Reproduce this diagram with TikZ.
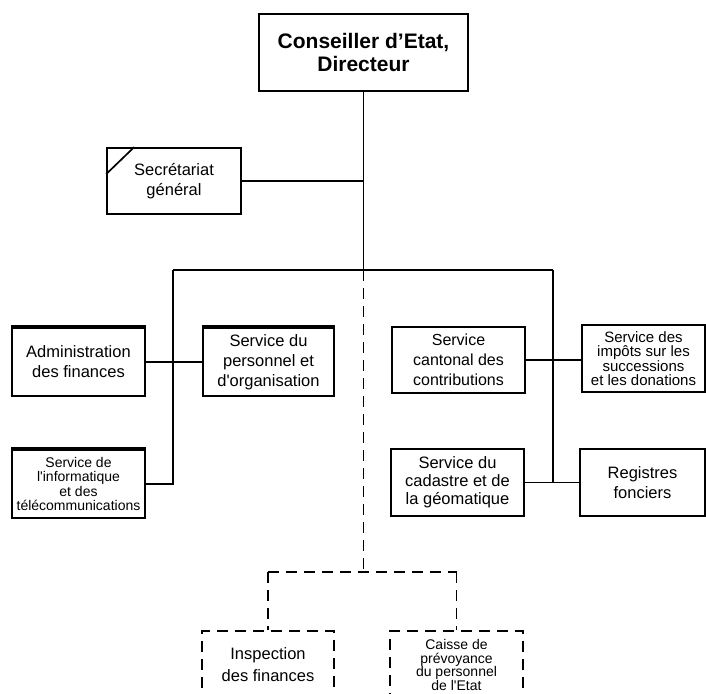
\documentclass[tikz,border=0pt]{standalone}
\usepackage{fontspec}
\setmainfont{Liberation Sans}
\begin{document}
\begin{tikzpicture}[x=1pt,y=-1pt,
  box/.style={draw, line width=1.7pt, rectangle, inner sep=0pt, align=center},
  topbox/.style={box, line width=2.4pt, minimum width=209pt, minimum height=77pt,
    font=\fontsize{21}{23}\selectfont\bfseries},
  f16/.style={font=\fontsize{16.5}{20}\selectfont},
  f14/.style={font=\fontsize{14}{14.5}\selectfont},
  f15/.style={font=\fontsize{15}{14.5}\selectfont},
  dbox/.style={box, dash pattern=on 11pt off 7pt, line width=1.7pt},
  link/.style={line width=1.7pt},
  dlink/.style={line width=1.7pt, dash pattern=on 11pt off 7pt},
  heavytop/.style={line width=3.5pt}
]
\useasboundingbox (0,0) rectangle (706,693);
\clip (0,0) rectangle (706,693);

% nodes
\node[topbox] (top) at (363.5,52.5) {Conseiller d’Etat,\\Directeur};
\node[box,f16,minimum width=134pt,minimum height=66pt] (sec) at (174,181) {Secrétariat\\général};
\node[box,f16,minimum width=133pt,minimum height=68pt] (adm) at (78.5,362) {Administration\\des finances};
\node[box,f16,minimum width=131pt,minimum height=68pt] (pers) at (268.5,362) {Service du\\personnel et\\d\textquotesingle organisation};
\node[box,f14,minimum width=133pt,minimum height=68pt] (info) at (78.5,484) {Service de\\l\textquotesingle informatique\\et des\\télécommunications};
\node[box,font=\fontsize{16}{20}\selectfont,minimum width=133pt,minimum height=66pt] (cant) at (458.5,360) {Service\\cantonal des\\contributions};
\node[box,f15,minimum width=123pt,minimum height=67pt] (imp) at (643.5,358.5) {Service des\\impôts sur les\\successions\\et les donations};
\node[box,font=\fontsize{16.5}{18}\selectfont,minimum width=133pt,minimum height=67pt] (cad) at (457.5,482.5) {Service du\\cadastre et de\\la géomatique};
\node[box,f16,minimum width=125pt,minimum height=67pt] (reg) at (642.5,482.5) {Registres\\fonciers};
\node[dbox,font=\fontsize{16.5}{22}\selectfont,minimum width=132pt,minimum height=68pt] (insp) at (268,665) {Inspection\\des finances};
\node[dbox,font=\fontsize{14}{13.5}\selectfont,minimum width=133pt,minimum height=68pt] (cais) at (456.5,665) {Caisse de\\prévoyance\\du personnel\\de l\textquotesingle Etat};

% heavy top edges
\draw[heavytop] (adm.north west) -- (adm.north east);
\draw[heavytop] (pers.north west) -- (pers.north east);
\draw[heavytop] (info.north west) -- (info.north east);
% diagonal mark
\draw[link] ([yshift=-27pt]sec.north west) -- ([xshift=28pt]sec.north west);

% junction coordinates
\coordinate (j) at (top.south |- 0,270);
\coordinate (jl) at (173,270);
\coordinate (jr) at (553,270);
\coordinate (jd) at (top.south |- 0,572);
\coordinate (dl) at (insp.north |- 0,572);
\coordinate (dr) at (cais.north |- 0,572);

% solid connectors
\draw[link] (top.south) -- (j);
\draw[link] (sec.east) -- (sec.east -| j);
\draw[link] (jl) -- (jr);
\draw[link] (jl) |- (info.east);
\draw[link] (adm.east) -- (pers.west);
\draw[link] (jr) |- (cad.east);
\draw[link] (cad.east) -- (reg.west);
\draw[link] (cant.east) -- (cant.east -| imp.west);

% dashed connectors
\draw[dlink] (j) -- (jd);
\draw[dlink] (dl) -- (dr);
\draw[dlink] (dl) -- (insp.north);
\draw[dlink] (dr) -- (cais.north);
\end{tikzpicture}
\end{document}
